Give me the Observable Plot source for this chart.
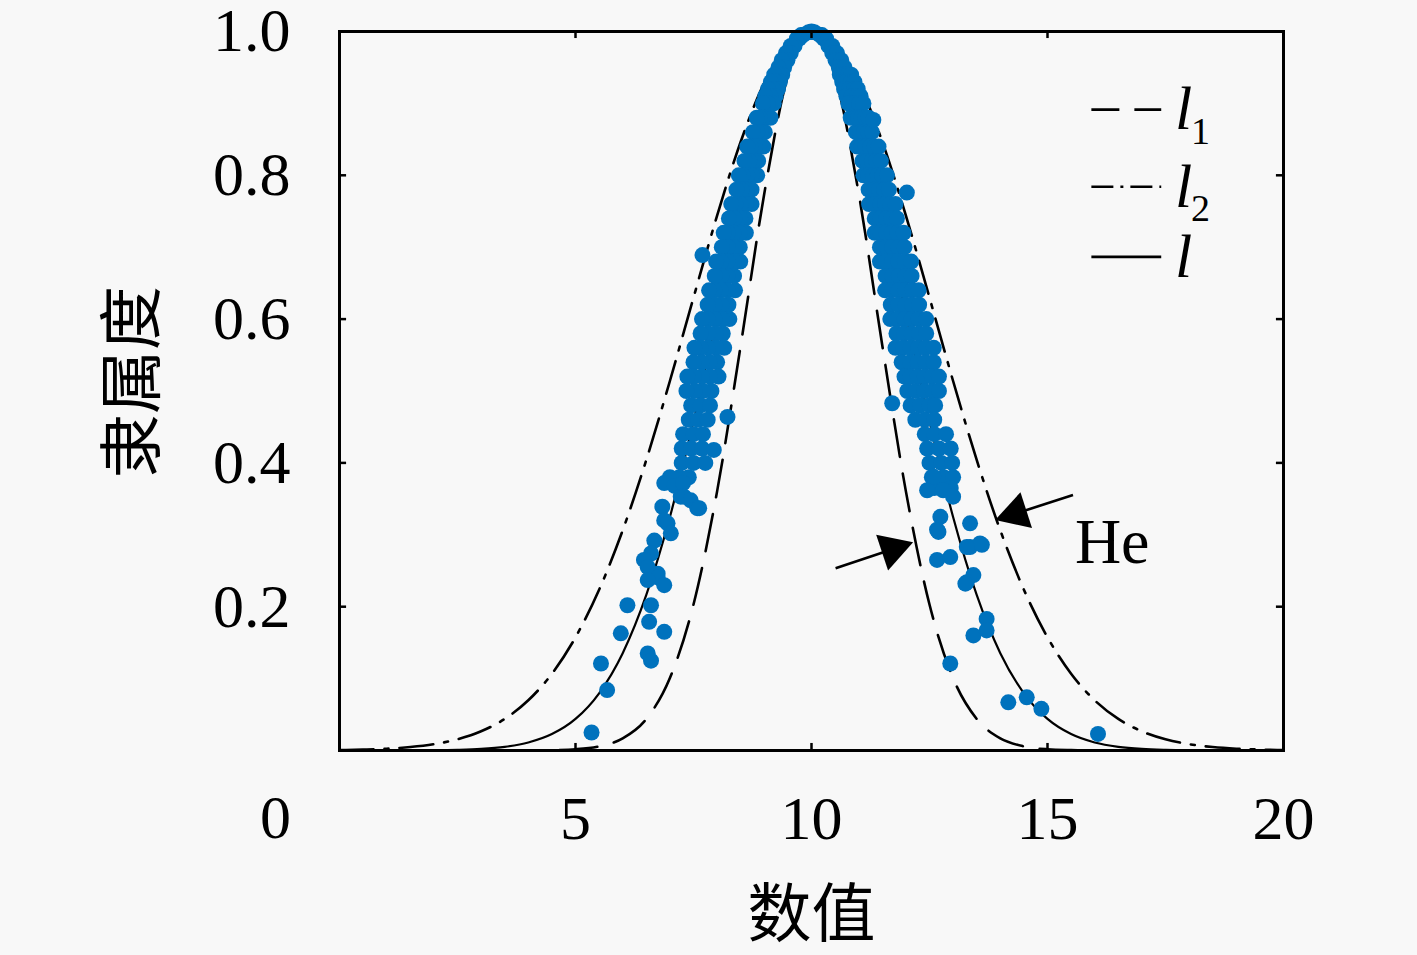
<!DOCTYPE html>
<html><head><meta charset="utf-8">
<script src="https://cdn.jsdelivr.net/npm/d3@7"></script>
<script src="https://cdn.jsdelivr.net/npm/@observablehq/plot@0.6"></script>
<style>
html,body{margin:0;padding:0;background:#f8f8f8;}
#chart{width:1417px;height:955px;}
</style></head><body><div id="chart"></div><script>
// ---- Axis ticks ----
const xTickValues = [5, 10, 15, 20];
const xZeroLabel = ["0"];
const yTickValues = [0.2, 0.4, 0.6, 0.8, 1.0];
const xTitle = "数值";
const yTitle = "隶属度";

// ---- Curves l1 (narrow, dashed), l2 (wide, dash-dot), l (solid) ----
const curveX = [0,0.5,1,1.5,2,2.5,3,3.5,4,4.5,5,5.5,6,6.5,7,7.5,8,8.5,9,9.5,10,
  10.5,11,11.5,12,12.5,13,13.5,14,14.5,15,15.5,16,16.5,17,17.5,18,18.5,19,19.5,20];
const curveL1 = [0,0,0,0,0,0,0,0,0.0001,0.0005,0.0017,0.0057,0.0169,0.0439,0.1007,0.2030,0.3604,0.5633,0.7748,0.9382,1,
  0.9382,0.7748,0.5633,0.3604,0.2030,0.1007,0.0439,0.0169,0.0057,0.0017,0.0005,0.0001,0,0,0,0,0,0,0,0];
const curveL2 = [0.0006,0.0013,0.0025,0.0048,0.0088,0.0156,0.0267,0.0439,0.0698,0.1067,0.1574,0.2236,0.3062,0.4041,0.5139,0.6298,0.7439,0.8467,0.9287,0.9817,1,
  0.9817,0.9287,0.8467,0.7439,0.6298,0.5139,0.4041,0.3062,0.2236,0.1574,0.1067,0.0698,0.0439,0.0267,0.0156,0.0088,0.0048,0.0025,0.0013,0.0006];
const curveL = [0,0,0.00004,0.0001,0.0003,0.0009,0.0022,0.0051,0.0111,0.0228,0.0439,0.0796,0.1353,0.2163,0.3247,0.4578,0.6065,0.7548,0.8825,0.9692,1,
  0.9692,0.8825,0.7548,0.6065,0.4578,0.3247,0.2163,0.1353,0.0796,0.0439,0.0228,0.0111,0.0051,0.0022,0.0009,0.0003,0.0001,0.00004,0,0];

// ---- Cloud drops: dense band (membership level, x positions on left and right flank) ----
const bandY = [0.995,0.99,0.98,0.97,0.96,0.95,0.94,0.93,0.92,0.91,0.90,0.88,0.86,0.84,0.82,0.80,0.78,0.76,0.74,0.72,0.70,
  0.68,0.66,0.64,0.62,0.60,0.58,0.56,0.54,0.52,0.50,0.48,0.46,0.44,0.42,0.40,0.38];
const bandLeftX = [
  [9.82,9.78],[9.74,9.69],[9.64,9.56],[9.56,9.46],[9.49,9.37],[9.42,9.30],
  [9.38,9.30,9.21],[9.33,9.24,9.14],[9.29,9.18,9.08],[9.24,9.13,9.02],[9.20,9.08,8.97],
  [9.13,9.05,8.97,8.90,8.84],[9.01,8.93,8.85,8.76],[8.98,8.89,8.80,8.71,8.64],[8.87,8.77,8.68,8.58],
  [8.85,8.74,8.64,8.54,8.46],[8.73,8.63,8.52,8.41],[8.73,8.61,8.50,8.39,8.30],[8.60,8.49,8.37,8.25],
  [8.61,8.48,8.35,8.23,8.14],[8.48,8.35,8.23,8.10],[8.49,8.35,8.22,8.09,7.98],[8.36,8.22,8.09,7.95],
  [8.38,8.22,8.08,7.94,7.83],[8.24,8.09,7.95,7.80],[8.26,8.10,7.95,7.80,7.68],[8.12,7.97,7.81,7.65],
  [8.15,7.98,7.81,7.65,7.52],[8.00,7.84,7.67,7.50],[8.03,7.85,7.68,7.51,7.37],[7.88,7.70,7.53,7.35],
  [7.45,7.65,7.85],[7.40,7.60,7.80],[7.28,7.50,7.70],[7.25,7.45,7.68],[7.25,7.50,7.75],[7.00,7.20,7.40]
];
const bandRightX = [
  [10.18,10.22],[10.26,10.31],[10.36,10.44],[10.44,10.54],[10.51,10.63],[10.58,10.70],
  [10.60,10.69,10.77,10.84],[10.65,10.74,10.84,10.91],[10.69,10.80,10.90,10.98],[10.74,10.85,10.96,11.04],[10.78,10.90,11.01,11.10],
  [10.83,10.91,10.99,11.06,11.14,11.21],[10.94,11.03,11.11,11.20,11.28],[10.97,11.06,11.15,11.24,11.33,11.42],[11.08,11.18,11.28,11.37,11.47],
  [11.10,11.20,11.30,11.40,11.50,11.60],[11.21,11.33,11.43,11.54,11.64],[11.22,11.33,11.45,11.56,11.67,11.78],[11.34,11.46,11.58,11.69,11.81],
  [11.34,11.46,11.58,11.70,11.82,11.95],[11.45,11.59,11.71,11.84,11.97],[11.45,11.58,11.71,11.84,11.98,12.11],[11.57,11.71,11.85,11.99,12.12],
  [11.56,11.70,11.84,11.98,12.13,12.27],[11.68,11.84,11.99,12.13,12.28],[11.67,11.82,11.97,12.12,12.27,12.43],[11.80,11.96,12.12,12.28,12.43],
  [11.78,11.94,12.10,12.26,12.42,12.59],[11.91,12.09,12.25,12.42,12.59],[11.97,12.10,12.25,12.40,12.55,12.70],[12.03,12.21,12.39,12.57,12.70],
  [12.10,12.30,12.50,12.62],[12.20,12.40,12.60],[12.40,12.60,12.85],[12.45,12.70,12.95],[12.50,12.75,12.98],[12.55,12.80,13.00]
];
// ---- Cloud drops: scattered individual drops ----
const looseX = [10.00,9.94,10.06,7.69,12.02,11.31,
  8.22,7.93,6.88,7.10,7.28,7.23,7.30,7.44,7.58,7.62,6.84,6.88,6.95,7.02,6.67,6.60,6.45,6.53,6.74,6.74,6.88,6.53,
  6.10,6.60,6.56,6.88,5.96,6.53,6.60,5.54,5.67,5.34,
  11.71,12.60,12.95,12.45,12.79,13.00,12.58,12.73,12.66,12.69,13.36,13.36,13.57,13.61,13.29,12.66,12.94,13.43,13.29,13.26,
  13.71,13.43,13.71,12.94,14.17,14.56,14.87,16.07];
const looseY = [1.000,0.999,0.999,0.689,0.776,0.877,
  0.464,0.418,0.372,0.368,0.372,0.353,0.353,0.348,0.337,0.337,0.339,0.320,0.316,0.302,0.292,0.274,0.265,0.255,0.246,0.241,0.230,0.237,
  0.202,0.202,0.179,0.165,0.163,0.135,0.125,0.121,0.084,0.025,
  0.483,0.365,0.365,0.362,0.362,0.353,0.381,0.325,0.307,0.304,0.316,0.283,0.288,0.286,0.283,0.265,0.269,0.244,0.234,0.232,
  0.183,0.160,0.167,0.121,0.067,0.074,0.058,0.023];

// ---- Legend & annotation ----
const legendNames = ["l", "l", "l"];
const legendSubs = ["1", "2", ""];
const legendDash = ["28,15", "22,7,3,7", null];
const legendY = [0.8914, 0.7841, 0.6866];
const legendX1 = 15.94, legendX2 = 17.42, legendTextX = 17.70;
const heText = "He";
const heArrows = [
  {x1: 10.51, y1: 0.2535, x2: 11.715, y2: 0.280, rot: 71.6},
  {x1: 15.54, y1: 0.3552, x2: 14.33, y2: 0.3297, rot: 252.2}
];
const hePos = {x: 15.58, y: 0.2897};

// ---- build tables ----
const drops = [];
bandY.forEach((y, i) => {
  bandLeftX[i].forEach(x => drops.push({x, y}));
  bandRightX[i].forEach(x => drops.push({x, y}));
});
looseX.forEach((x, i) => drops.push({x, y: looseY[i]}));
const curves = [
  {name: "l1", ys: curveL1, dash: "38,17"},
  {name: "l2", ys: curveL2, dash: "34,11,4,11"},
  {name: "l", ys: curveL, dash: null}
];
const curveRows = curves.flatMap(c => curveX.map((x, i) => ({name: c.name, x, y: c.ys[i]})));
const legendRows = legendNames.map((n, i) => ({name: n, sub: legendSubs[i], dash: legendDash[i], y: legendY[i]}));

const tx = 0.15, ty = 0.0098;
const serif = "'Liberation Serif', 'DejaVu Serif', serif";
const cjk = "'Noto Sans CJK SC', sans-serif";

const lineMarks = curves.map(c => Plot.line(curveRows.filter(d => d.name === c.name), {
  x: "x", y: "y", stroke: "black", strokeWidth: c.dash ? 2.6 : 2.2,
  strokeDasharray: c.dash ?? undefined, curve: "monotone-x"
}));
const legendLineMarks = legendRows.map(r => Plot.ruleY([r.y], {
  x1: legendX1, x2: legendX2, stroke: "black", strokeWidth: 2.6, strokeDasharray: r.dash ?? undefined
}));

const chart = Plot.plot({
  width: 1417, height: 955,
  marginLeft: 339, marginRight: 134, marginTop: 31, marginBottom: 205,
  style: {background: "#f8f8f8", fontFamily: serif, fontSize: "62px", color: "black"},
  x: {domain: [0, 20]},
  y: {domain: [0, 1]},
  marks: [
    ...lineMarks,
    Plot.dot(drops, {x: "x", y: "y", r: 8, fill: "#0072BD", stroke: "none"}),
    Plot.frame({stroke: "black", strokeWidth: 3}),
    // inward ticks on all four sides
    Plot.ruleX(xTickValues, {x: d => d, y1: 0, y2: ty, stroke: "black", strokeWidth: 2.5}),
    Plot.ruleX(xTickValues, {x: d => d, y1: 1 - ty, y2: 1, stroke: "black", strokeWidth: 2.5}),
    Plot.ruleY(yTickValues, {y: d => d, x1: 0, x2: tx, stroke: "black", strokeWidth: 2.5}),
    Plot.ruleY(yTickValues, {y: d => d, x1: 20 - tx, x2: 20, stroke: "black", strokeWidth: 2.5}),
    Plot.axisX({ticks: xTickValues, tickSize: 0, tickPadding: 44, label: null, tickFormat: d => String(d)}),
    Plot.text(xZeroLabel, {x: 0, y: 0, text: d => d, dx: -64, dy: 68, textAnchor: "middle"}),
    Plot.axisY({ticks: yTickValues, tickSize: 0, tickPadding: 49, label: null, tickFormat: ".1f"}),
    Plot.text([xTitle], {x: 10, y: 0, text: d => d, dy: 165, fontFamily: cjk, fontSize: 64, textAnchor: "middle"}),
    Plot.text([yTitle], {x: 0, y: 0.5125, text: d => d, dx: -206, rotate: -90, fontFamily: cjk, fontSize: 64, textAnchor: "middle"}),
    // legend
    ...legendLineMarks,
    Plot.text(legendRows, {x: legendTextX, y: "y", text: "name", fontStyle: "italic", fontSize: 62, textAnchor: "start"}),
    Plot.text(legendRows, {x: legendTextX, y: "y", text: "sub", fontSize: 38, dx: 16, dy: 22, textAnchor: "start"}),
    // He annotation
    Plot.link(heArrows, {x1: "x1", y1: "y1", x2: "x2", y2: "y2", stroke: "black", strokeWidth: 2.6}),
    Plot.dot(heArrows, {x: "x2", y: "y2", symbol: "triangle", r: 14, fill: "black", stroke: "none", rotate: "rot"}),
    Plot.text([heText], {x: hePos.x, y: hePos.y, text: d => d, fontSize: 64, textAnchor: "start"})
  ]
});
document.getElementById("chart").appendChild(chart);
</script></body></html>
